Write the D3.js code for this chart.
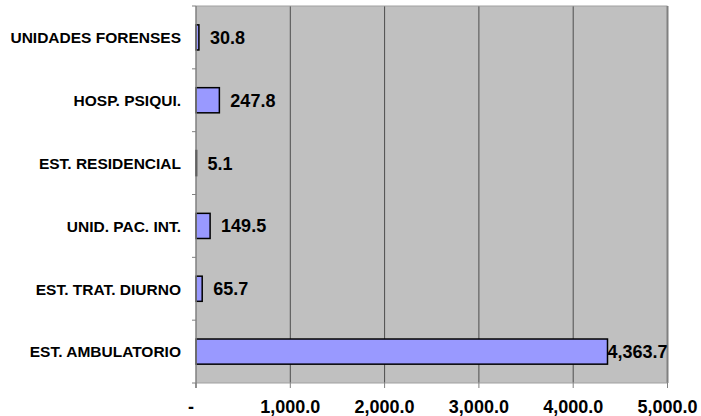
<!DOCTYPE html>
<html><head><meta charset="utf-8">
<script src="https://cdn.jsdelivr.net/npm/d3@7"></script>
<style>body{margin:0;background:#fff}svg{display:block}text{font-family:"Liberation Sans",Arial,sans-serif;font-weight:bold;fill:#000}</style>
</head><body><svg id="c" width="701" height="416"></svg>
<script>
const categories = ["UNIDADES FORENSES","HOSP. PSIQUI.","EST. RESIDENCIAL","UNID. PAC. INT.","EST. TRAT. DIURNO","EST. AMBULATORIO"];
const values = [30.8, 247.8, 5.1, 149.5, 65.7, 4363.7];
const valueLabels = ["30.8","247.8","5.1","149.5","65.7","4,363.7"];
const tickValues = [0,1000,2000,3000,4000,5000];
const tickLabels = ["-","1,000.0","2,000.0","3,000.0","4,000.0","5,000.0"];

const svg = d3.select("#c");
const L=196, R=667.5, T=6, B=383;
const x = d3.scaleLinear().domain([0,5000]).range([L,R]);
const y = d3.scaleBand().domain(categories).range([T,B]).paddingInner(0.6).paddingOuter(0.3);
const yb = d3.scaleBand().domain(categories).range([T,B]);

svg.append("rect").attr("x",L).attr("y",T).attr("width",R-L).attr("height",B-T).attr("fill","#c0c0c0");
// gridlines
svg.append("g").selectAll("line").data(tickValues.slice(1,-1)).join("line")
  .attr("x1",d=>x(d)).attr("x2",d=>x(d)).attr("y1",T).attr("y2",B)
  .attr("stroke","#4d4d4d").attr("stroke-width",1);
// border
svg.append("line").attr("x1",L).attr("x2",R).attr("y1",T).attr("y2",T).attr("stroke","#a0a0a0");
svg.append("line").attr("x1",R).attr("x2",R).attr("y1",T).attr("y2",B).attr("stroke","#808080").attr("stroke-width",2);
svg.append("line").attr("x1",L).attr("x2",R).attr("y1",B).attr("y2",B).attr("stroke","#a0a0a0");

// bars
svg.append("g").selectAll("rect").data(values).join("rect")
  .attr("x",x(0)).attr("y",(d,i)=>y(categories[i]))
  .attr("width",d=>x(d)-x(0)).attr("height",y.bandwidth())
  .attr("fill","#9999ff").attr("stroke","#000").attr("stroke-width",1.5);

// y axis
svg.append("line").attr("x1",L).attr("x2",L).attr("y1",T).attr("y2",B+5).attr("stroke","#808080").attr("stroke-width",1.5);
const bounds = categories.map(c=>yb(c)).concat([B]);
svg.append("g").selectAll("line").data(bounds).join("line")
  .attr("x1",L-4).attr("x2",L).attr("y1",d=>d).attr("y2",d=>d).attr("stroke","#808080");
svg.append("g").selectAll("line").data(tickValues).join("line")
  .attr("x1",d=>x(d)).attr("x2",d=>x(d)).attr("y1",B).attr("y2",B+5).attr("stroke","#808080");

// category labels
svg.append("g").selectAll("text").data(categories).join("text")
  .attr("x",181).attr("y",d=>yb(d)+yb.bandwidth()/2+5.8).attr("text-anchor","end")
  .style("font-size","15.5px").text(d=>d);

// value labels
svg.append("g").selectAll("text").data(values).join("text")
  .attr("y",(d,i)=>yb(categories[i])+yb.bandwidth()/2+6.5)
  .style("font-size","18px").text((d,i)=>valueLabels[i])
  .attr("x",function(d){const w=this.getComputedTextLength();return Math.min(x(d)+11,R-w);});

// x tick labels
svg.append("g").selectAll("text").data(tickValues).join("text")
  .attr("x",(d,i)=>i===0?x(d)-5:x(d)).attr("y",413).attr("text-anchor","middle")
  .style("font-size","18px").text((d,i)=>tickLabels[i]);
</script></body></html>
